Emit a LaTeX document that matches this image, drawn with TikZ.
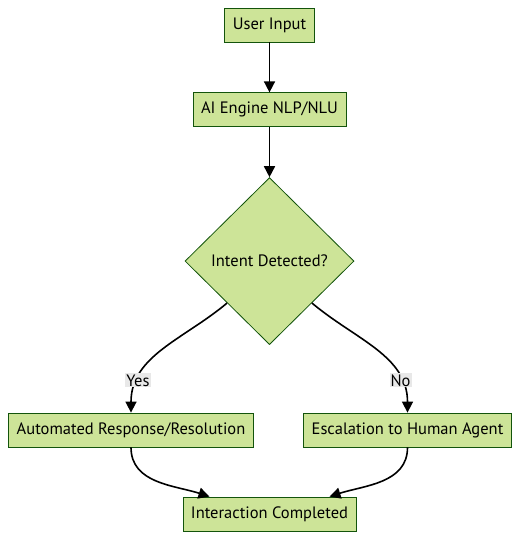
\documentclass[tikz,border=0pt]{standalone}
\usepackage{fontspec}
\setmainfont{PT Sans}
\usetikzlibrary{positioning, arrows.meta}
\usetikzlibrary{shapes.geometric}
\definecolor{boxfill}{HTML}{CDE498}
\definecolor{boxline}{HTML}{13540C}
\definecolor{labelfill}{HTML}{E8E8E8}
\tikzset{
    flowbox/.style={shape=rectangle,draw=boxline,fill=boxfill,line width=0.8pt,minimum height=34pt,inner xsep=8pt},
    decision/.style={shape=diamond,draw=boxline,fill=boxfill,line width=0.8pt,minimum width=169pt,minimum height=167pt,inner sep=0pt},
    edgelabel/.style={fill=labelfill,inner sep=1pt,draw=none},
    flow/.style={->,line width=1.6pt},
  }

\begin{document}
\begin{tikzpicture}[>={Triangle[length=11pt,width=11pt]},font=\fontsize{16.5}{19}\selectfont,node distance=50pt,]
		    \useasboundingbox (0,0) rectangle (520pt,-540pt);
		    % create the nodes
			    \node[flowbox] (input) at (269.5pt,-25pt) {User Input}; %start
			    \node[flowbox] (engine)[below =of input] {AI Engine NLP/NLU};
			    \node[decision] (intent)[below =50pt of engine] {Intent Detected?}; %decision
			    \node[flowbox] (auto) at (131pt,-430pt) {Automated Response/Resolution};
			    \node[flowbox] (human) at (407.5pt,-430pt) {Escalation to Human Agent};
			    \node[flowbox] (done) at (269.5pt,-514pt) {Interaction Completed}; %end
		    % connect the nodes
			    \draw[flow] (input) -- (engine);
			    \draw[flow] (engine) -- (intent);
			    \draw[flow] (intent.south west) to[out=-140,in=90] node[edgelabel,pos=0.78] {Yes} (auto);
			    \draw[flow] (intent.south east) to[out=-40,in=90] node[edgelabel,pos=0.78] {No} (human);
			    \draw[flow] (auto) to[out=-90,in=162] ([xshift=-60pt]done.north);
			    \draw[flow] (human) to[out=-90,in=18] ([xshift=60pt]done.north);
			\end{tikzpicture}
\end{document}
